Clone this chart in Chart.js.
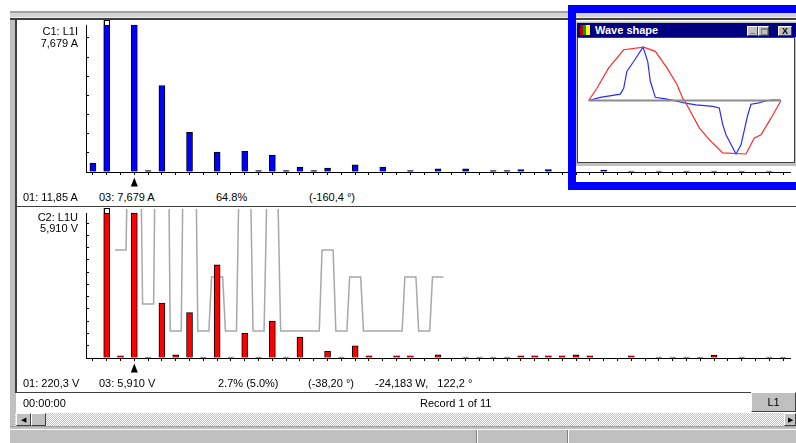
<!DOCTYPE html>
<html>
<head>
<meta charset="utf-8">
<script src="https://cdn.jsdelivr.net/npm/chart.js@4/dist/chart.umd.min.js"></script>
<style>
  html, body { margin: 0; padding: 0; }
  body { width: 796px; height: 443px; position: relative; overflow: hidden; background: #fff;
         font: 11px "Liberation Sans", Arial, sans-serif; color: #000; }
  .abs { position: absolute; }
  .t { position: absolute; white-space: pre; line-height: 12px; }
  canvas { position: absolute; }
  .btn { position: absolute; background: #c0c0c0; box-sizing: border-box;
         border-top: 1px solid #fff; border-left: 1px solid #fff;
         border-right: 1px solid #404040; border-bottom: 1px solid #404040; }
</style>
</head>
<body>

<!-- main window frame -->
<div class="abs" style="left:10px;top:11px;width:6px;height:419px;background:#c0c0c0"></div>
<div class="abs" style="left:15px;top:18px;width:2px;height:375px;background:#404040"></div>
<div class="abs" style="left:10px;top:11px;width:786px;height:9px;background:linear-gradient(to bottom,#a0a0a0 0 2px,#d4d4d4 2px 6px,#ececec 6px 7px,#404040 7px 9px)"></div>

<canvas id="chartCurrent" width="779" height="170" style="left:17px;top:19px"></canvas>
<div class="abs" style="left:17px;top:206px;width:779px;height:1px;background:#404040"></div>
<canvas id="chartLimit" width="779" height="168" style="left:17px;top:207px"></canvas>
<canvas id="chartVoltage" width="779" height="168" style="left:17px;top:207px"></canvas>

<!-- channel labels -->
<div class="t" style="left:30px;top:25px;width:48px;text-align:right">C1: L1I</div>
<div class="t" style="left:30px;top:37px;width:48px;text-align:right">7,679 A</div>
<div class="t" style="left:30px;top:211px;width:48px;text-align:right">C2: L1U</div>
<div class="t" style="left:30px;top:222px;width:48px;text-align:right">5,910 V</div>

<!-- readouts -->
<div class="t" style="left:23px;top:191px">01: 11,85 A</div>
<div class="t" style="left:99px;top:191px">03: 7,679 A</div>
<div class="t" style="left:216px;top:191px">64.8%</div>
<div class="t" style="left:309px;top:191px">(-160,4 °)</div>

<div class="t" style="left:23px;top:377px">01: 220,3 V</div>
<div class="t" style="left:99px;top:377px">03: 5,910 V</div>
<div class="t" style="left:218px;top:377px">2.7% (5.0%)</div>
<div class="t" style="left:308px;top:377px">(-38,20 °)</div>
<div class="t" style="left:375px;top:377px">-24,183 W,   122,2 °</div>

<!-- status row -->
<div class="abs" style="left:15px;top:392px;width:736px;height:1px;background:#404040"></div>
<div class="t" style="left:23px;top:397px">00:00:00</div>
<div class="t" style="left:420px;top:397px">Record 1 of 11</div>
<div class="btn" style="left:751px;top:392px;width:45px;height:20px;text-align:center;line-height:18px">L1</div>

<!-- scrollbar -->
<div class="abs" style="left:15px;top:413px;width:781px;height:13px;background:repeating-conic-gradient(#c0c0c0 0 25%,#fff 0 50%) 0 0/2px 2px"></div>
<div class="btn" style="left:16px;top:413px;width:15px;height:13px;font-size:7px;line-height:11px;text-align:center">&#9664;</div>
<div class="btn" style="left:31px;top:413px;width:15px;height:13px"></div>
<div class="btn" style="left:784px;top:413px;width:12px;height:13px;font-size:7px;line-height:11px;text-align:center">&#9654;</div>

<!-- status bar -->
<div class="abs" style="left:10px;top:426px;width:786px;height:17px;background:#c0c0c0;border-top:1px solid #a0a0a0;box-sizing:border-box"></div>
<div class="abs" style="left:10px;top:429px;width:786px;height:1px;background:#fff"></div>
<div class="abs" style="left:476px;top:430px;width:1px;height:13px;background:#808080"></div>
<div class="abs" style="left:477px;top:430px;width:1px;height:13px;background:#fff"></div>
<div class="abs" style="left:567px;top:430px;width:1px;height:13px;background:#808080"></div>
<div class="abs" style="left:568px;top:430px;width:1px;height:13px;background:#fff"></div>

<!-- wave shape dialog -->
<div class="abs" style="left:575px;top:21px;width:230px;height:145px;background:#c0c0c0;border-top:1px solid #e0e0e0;border-left:1px solid #e0e0e0;box-sizing:border-box"></div>
<div class="abs" style="left:577px;top:23px;width:230px;height:14px;background:#000080"></div>
<div class="abs" style="left:580px;top:25px;width:10px;height:10px;background:linear-gradient(90deg,#c00000 0 3px,#00a000 3px 6px,#ffff00 6px 10px)"></div>
<div class="t" style="left:595px;top:24px;color:#fff;font-weight:bold">Wave shape</div>
<div class="btn" style="left:747px;top:26px;width:11px;height:10px;font-size:9px;font-weight:bold;line-height:7px;text-align:center">_</div>
<div class="btn" style="left:758px;top:26px;width:11px;height:10px"><div class="abs" style="left:2px;top:1px;width:5px;height:4px;border:1px solid #808080;border-top-width:2px"></div></div>
<div class="btn" style="left:778px;top:26px;width:14px;height:10px;font-size:9px;font-weight:bold;line-height:8px;text-align:center">X</div>
<div class="abs" style="left:577px;top:37px;width:218px;height:126px;background:#fff;border:1px solid #404040;box-sizing:border-box"></div>
<canvas id="chartWave" width="216" height="124" style="left:578px;top:38px"></canvas>

<!-- highlight frame -->
<div class="abs" style="left:568px;top:5px;width:240px;height:185px;border:8px solid #0000ff;box-sizing:border-box"></div>

<script>
// harmonic order 0..50
const harmonics = ['0', '1', '2', '3', '4', '5', '6', '7', '8', '9', '10',
    '11', '12', '13', '14', '15', '16', '17', '18', '19', '20',
    '21', '22', '23', '24', '25', '26', '27', '28', '29', '30',
    '31', '32', '33', '34', '35', '36', '37', '38', '39', '40',
    '41', '42', '43', '44', '45', '46', '47', '48', '49', '50'];

// C1: L1I current harmonics (A)
const currentA = [0.47, 11.85, 0, 7.679, 0.07, 4.52, 0, 2.07, 0, 1.04, 0,
    1.08, 0.07, 0.89, 0.07, 0.26, 0.07, 0.21, 0, 0.38, 0,
    0.26, 0, 0.07, 0, 0.17, 0, 0.17, 0, 0.07, 0.07,
    0.12, 0, 0.12, 0, 0, 0, 0.1, 0, 0.05, 0,
    0.05, 0, 0.05, 0, 0.05, 0, 0.05, 0, 0.05, 0];

// C2: L1U voltage harmonics (V)
const voltageV = [0, 220.3, 0.09, 5.91, 0.04, 2.24, 0.13, 1.85, 0.04, 3.80, 0.04,
    1.01, 0.04, 1.50, 0.04, 0.85, 0, 0.27, 0.04, 0.50, 0.09,
    0, 0.09, 0.09, 0, 0.13, 0, 0.04, 0.04, 0.04, 0.04,
    0.09, 0.09, 0.09, 0.09, 0.13, 0.09, 0, 0, 0.09, 0,
    0.04, 0.04, 0.04, 0.04, 0.11, 0, 0.04, 0, 0.04, 0.04];

// limit per harmonic, % of fundamental (orders 2..25)
const limitOrders = [2, 3, 4, 5, 6, 7, 8, 9, 10, 11, 12, 13, 14, 15, 16, 17, 18, 19, 20, 21, 22, 23, 24, 25];
const limitPct = [2, 5, 1, 6, 0.5, 5, 0.5, 1.5, 0.5, 3.5, 0.5, 3, 0.5, 0.5, 0.5, 2, 0.5, 1.5, 0.5, 0.5, 0.5, 1.5, 0.5, 1.5];
const fundamentalV = 220.3;

// axis full scale = value of the cursor harmonic
const cursorHarm = 3;
const currentMax = 7.679;
const voltageMax = 5.91;

// wave shape, one period (ms, relative to peak)
const waveTimeU = [0, 0.86, 2.08, 3.64, 5.72, 6.93, 8.14, 9.18, 9.81, 10.12, 11.5, 12.54, 13.94, 16.36, 17.22, 17.92, 18.96, 20];
const waveU = [0, 0.23, 0.61, 0.95, 1.0, 0.92, 0.61, 0.30, 0.03, -0.05, -0.51, -0.73, -0.98, -1.0, -0.70, -0.64, -0.33, 0];
const waveTimeI = [0, 1.21, 3.29, 3.64, 3.98, 4.68, 5.65, 6.14, 6.41, 6.93, 7.97, 9.18, 10.05, 11.16, 12.9, 13.58,
    13.94, 14.28, 15.32, 15.84, 16.54, 16.88, 17.58, 18.26, 19.14, 19.76, 20];
const waveI = [0, 0.06, 0.12, 0.23, 0.55, 0.73, 1.0, 0.73, 0.36, 0.06, 0.03, -0.01, -0.05, -0.08, -0.11, -0.14,
    -0.45, -0.64, -1.0, -0.83, -0.27, -0.07, -0.05, -0.01, 0.01, 0.01, 0];

const pad = { left: 69, right: 6, top: 6, bottom: 17 };

// white box on bars that run off the top + cursor arrow
const harmMarks = {
    id: 'harmMarks',
    afterDatasetsDraw(chart) {
        const ctx = chart.ctx;
        const area = chart.chartArea;
        const yMax = chart.scales.y.max;
        const values = chart.data.datasets[0].data;
        ctx.save();
        chart.getDatasetMeta(0).data.forEach((bar, i) => {
            if (values[i] > yMax) {
                const w = bar.width;
                ctx.fillStyle = '#fff';
                ctx.fillRect(bar.x - w / 2, area.top - 5, w, 5);
                ctx.strokeStyle = '#000';
                ctx.lineWidth = 1;
                ctx.strokeRect(Math.round(bar.x - w / 2) + 0.5, area.top - 4.5, w - 1, 5);
            }
        });
        const cx = chart.scales.x.getPixelForValue(cursorHarm);
        const by = area.bottom;
        ctx.fillStyle = '#000';
        ctx.beginPath();
        ctx.moveTo(cx, by + 5.5);
        ctx.lineTo(cx - 3.5, by + 14.5);
        ctx.lineTo(cx + 3.5, by + 14.5);
        ctx.closePath();
        ctx.fill();
        ctx.restore();
    }
};

function harmChart(id, values, color, yMax, step) {
    return new Chart(document.getElementById(id), {
        type: 'bar',
        data: {
            labels: harmonics,
            datasets: [{
                data: values,
                backgroundColor: color,
                borderColor: '#000',
                borderWidth: 1,
                barThickness: 6,
                clip: { left: 0, right: 0, top: 5, bottom: 0 }
            }]
        },
        options: {
            animation: false,
            responsive: false,
            maintainAspectRatio: false,
            layout: { padding: pad },
            plugins: { legend: { display: false }, tooltip: { enabled: false } },
            scales: {
                x: {
                    type: 'category',
                    offset: true,
                    grid: { offset: false, drawOnChartArea: false, tickLength: 3, color: '#000' },
                    border: { color: '#000' },
                    ticks: { display: false },
                    afterFit: s => { s.height = 0; }
                },
                y: {
                    min: 0,
                    max: yMax,
                    grid: { drawOnChartArea: false, tickLength: -3, color: '#000' },
                    border: { color: '#000' },
                    ticks: { display: false, stepSize: step, includeBounds: false },
                    afterFit: s => { s.width = 0; }
                }
            }
        },
        plugins: [harmMarks]
    });
}

harmChart('chartCurrent', currentA, '#0000ff', currentMax, 1);
harmChart('chartVoltage', voltageV, '#ff0000', voltageMax, 0.5);

// limit step line, same geometry as the voltage bars (one slot per order)
const limitPoints = [];
limitOrders.forEach((h, i) => {
    const v = limitPct[i] * fundamentalV / 100;
    limitPoints.push({ x: h - 0.4, y: v }, { x: h + 0.4, y: v });
});

new Chart(document.getElementById('chartLimit'), {
    type: 'line',
    data: {
        datasets: [{
            data: limitPoints,
            borderColor: '#a8a8a8',
            borderWidth: 1.5,
            pointRadius: 0,
            tension: 0,
            clip: { left: 0, right: 0, top: 4, bottom: 0 }
        }]
    },
    options: {
        animation: false,
        responsive: false,
        maintainAspectRatio: false,
        layout: { padding: pad },
        plugins: { legend: { display: false }, tooltip: { enabled: false } },
        scales: {
            x: { type: 'linear', display: false, min: -0.5, max: 50.5 },
            y: { display: false, min: 0, max: voltageMax }
        }
    }
});

new Chart(document.getElementById('chartWave'), {
    type: 'line',
    data: {
        datasets: [{
            data: [{ x: 0, y: 0 }, { x: 20, y: 0 }],
            borderColor: '#8c8c8c',
            borderWidth: 2,
            pointRadius: 0
        }, {
            data: waveTimeU.map((t, i) => ({ x: t, y: waveU[i] })),
            borderColor: '#ff2a2a',
            borderWidth: 1.2,
            pointRadius: 0,
            tension: 0
        }, {
            data: waveTimeI.map((t, i) => ({ x: t, y: waveI[i] })),
            borderColor: '#2a2aff',
            borderWidth: 1.2,
            pointRadius: 0,
            tension: 0
        }]
    },
    options: {
        animation: false,
        responsive: false,
        maintainAspectRatio: false,
        layout: { padding: 0 },
        plugins: { legend: { display: false }, tooltip: { enabled: false } },
        scales: {
            x: { type: 'linear', display: false, min: -1.11, max: 21.35 },
            y: { display: false, min: -1.15, max: 1.17 }
        }
    }
});
</script>
</body>
</html>
